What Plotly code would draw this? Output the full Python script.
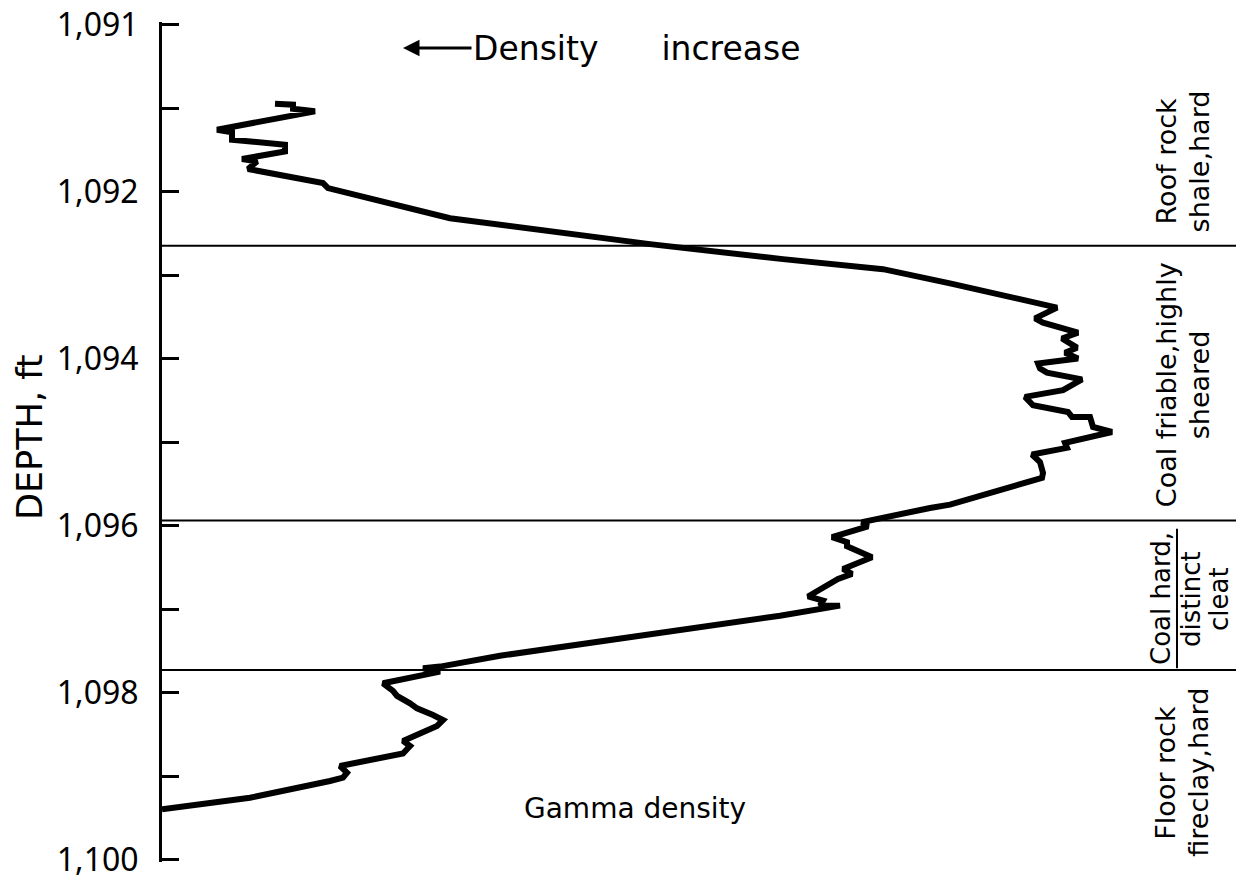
import plotly.graph_objects as go

# Gamma density log (relative density reading, arbitrary units; increases to the left)
gamma = [11.3, 13.1, 13.1, 15.3, 5.5, 7.0, 7.0, 12.3, 12.3, 8.0, 9.5, 8.6, 16.1, 16.6,
         28.8, 48.8, 62.1, 72.1, 78.8, 87.8, 89.5, 87.3, 88.1, 91.6, 90.0, 91.5, 90.3,
         91.6, 87.6, 87.8, 88.5, 92.0, 90.5, 90.1, 86.3, 87.1, 90.6, 91.0, 92.8, 93.1,
         95.0, 90.3, 90.5, 87.0, 87.8, 88.1, 88.0, 80.8, 78.8, 76.8, 70.0, 70.6, 67.0,
         68.5, 68.5, 71.0, 68.1, 69.0, 67.6, 64.6, 66.1, 65.8, 67.8, 61.8, 33.8, 27.8,
         26.1, 27.8, 22.1, 23.1, 23.5, 24.8, 25.5, 27.1, 28.1, 27.5, 24.1, 24.8, 24.1,
         17.8, 18.5, 18.1, 16.8, 8.8, 2.1, 0.0]
depth = [1090.95, 1090.96, 1091.01, 1091.04, 1091.26, 1091.29, 1091.38, 1091.44, 1091.52,
         1091.61, 1091.64, 1091.73, 1091.90, 1091.96, 1092.32, 1092.63, 1092.81, 1092.93,
         1093.10, 1093.35, 1093.39, 1093.52, 1093.57, 1093.69, 1093.76, 1093.87, 1093.93,
         1094.00, 1094.06, 1094.12, 1094.17, 1094.25, 1094.35, 1094.38, 1094.46, 1094.56,
         1094.64, 1094.70, 1094.70, 1094.82, 1094.88, 1095.01, 1095.07, 1095.15, 1095.24,
         1095.37, 1095.43, 1095.67, 1095.75, 1095.79, 1095.96, 1096.01, 1096.14, 1096.20,
         1096.25, 1096.38, 1096.52, 1096.58, 1096.64, 1096.85, 1096.90, 1096.96, 1096.96,
         1097.08, 1097.56, 1097.69, 1097.71, 1097.75, 1097.89, 1097.98, 1098.04, 1098.13,
         1098.19, 1098.27, 1098.33, 1098.40, 1098.58, 1098.64, 1098.73, 1098.88, 1098.96,
         1099.02, 1099.06, 1099.26, 1099.38, 1099.40]

# Strata boundaries (depth, ft)
boundaries = [1092.65, 1095.94, 1097.73]
strata_labels = [["Roof rock", "shale,hard"],
                 ["Coal friable,highly", "sheared"],
                 ["Coal hard,", "distinct", "cleat"],
                 ["Floor rock", "fireclay,hard"]]
strata_centers = [1091.64, 1094.32, 1096.88, 1098.96]

tick_vals = [1090, 1091, 1092, 1093, 1094, 1095, 1096, 1097, 1098, 1099, 1100]
tick_text = ["1,091", "", "1,092", "", "1,094", "", "1,096", "", "1,098", "", "1,100"]

FONT = "DejaVu Sans"
PLOT_L, PLOT_W = 162, 1074


def px_to_paper(px):
    return (px - PLOT_L) / PLOT_W


fig = go.Figure()
fig.add_trace(go.Scatter(x=gamma, y=depth, mode="lines",
                         line=dict(color="black", width=6),
                         showlegend=False, hoverinfo="skip"))

shapes = []
for b in boundaries:
    shapes.append(dict(type="line", xref="paper", yref="y", x0=0, x1=1, y0=b, y1=b,
                       line=dict(color="black", width=2)))
# separator inside the label column of the hard-coal band
shapes.append(dict(type="line", xref="paper", yref="y",
                   x0=px_to_paper(1177), x1=px_to_paper(1177),
                   y0=boundaries[1] + 0.1, y1=boundaries[2] - 0.02,
                   line=dict(color="black", width=2)))

annotations = []
for lines, c in zip(strata_labels, strata_centers):
    if len(lines) == 2:
        cols = [1166, 1199]
        fs = 27
    else:
        cols = [1161, 1191, 1219]
        fs = 26
    for txt, cx in zip(lines, cols):
        annotations.append(dict(text=txt, xref="paper", yref="y", x=px_to_paper(cx), y=c,
                                textangle=-90, showarrow=False, xanchor="center",
                                yanchor="middle", align="center",
                                font=dict(family=FONT, size=fs, color="black")))

annotations.append(dict(text="Density\u00a0\u00a0\u00a0\u00a0\u00a0\u00a0increase",
                        xref="paper", yref="paper", x=px_to_paper(403), y=0.969,
                        ax=234, ay=0, showarrow=True, arrowhead=2, arrowsize=1.1,
                        arrowwidth=3, arrowcolor="black",
                        font=dict(family=FONT, size=33, color="black")))
annotations.append(dict(text="Gamma density", xref="paper", yref="paper",
                        x=px_to_paper(635), y=0.064, showarrow=False, xanchor="center",
                        yanchor="middle",
                        font=dict(family=FONT, size=28, color="black")))
annotations.append(dict(text="DEPTH, ft", xref="paper", yref="paper",
                        x=px_to_paper(30), y=0.506, textangle=-90, showarrow=False,
                        xanchor="center", yanchor="middle",
                        font=dict(family=FONT, size=35, color="black")))

fig.update_layout(
    width=1236, height=886,
    margin=dict(l=PLOT_L, r=0, t=22, b=24),
    paper_bgcolor="white", plot_bgcolor="white",
    shapes=shapes, annotations=annotations,
    xaxis=dict(visible=False, range=[0, 107.4], fixedrange=True),
    yaxis=dict(range=[1100.03, 1089.97], tickvals=tick_vals, ticktext=tick_text,
               showgrid=False, zeroline=False, showline=True, linecolor="black",
               linewidth=3, ticks="inside", ticklen=17, tickwidth=2.5,
               tickcolor="black", ticklabelstandoff=14, fixedrange=True,
               tickfont=dict(family="Noto Sans", size=32, color="black")),
)

fig.write_html("out.html", config={"displayModeBar": False},
               post_script="document.body.style.margin='0px';")
